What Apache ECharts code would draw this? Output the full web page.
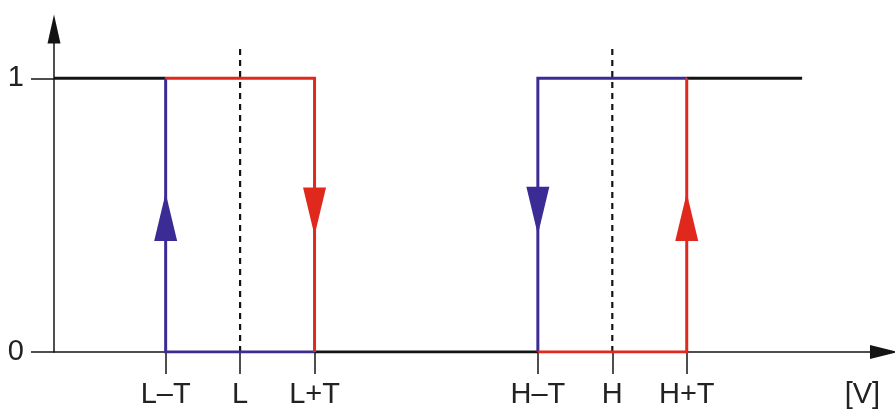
<!DOCTYPE html>
<html>
<head>
<meta charset="utf-8">
<script src="https://cdn.jsdelivr.net/npm/echarts@6/dist/echarts.min.js"></script>
<style>
  html, body { margin: 0; padding: 0; background: #fff; }
  #chart { width: 895px; height: 412px; }
</style>
</head>
<body>
<div id="chart"></div>
<script>
// x positions (T = 1 unit)
var xTicks = [1.5, 2.5, 3.5, 6.5, 7.5, 8.5];
var xTickLabels = ['L\u2013T', 'L', 'L+T', 'H\u2013T', 'H', 'H+T'];
var unitPos = 10.86;
var unitLabel = '[V]';
var yTicks = [0, 1];

// segments
var blackHigh1 = [[0, 1], [1.5, 1]];
var blackLow = [[3.5, 0], [6.5, 0]];
var blackHigh2 = [[8.5, 1], [10.05, 1]];
var redLow = [[1.5, 1], [3.5, 1], [3.5, 0]];
var blueLow = [[3.5, 0], [1.5, 0], [1.5, 1]];
var redHigh = [[6.5, 0], [8.5, 0], [8.5, 1]];
var blueHigh = [[8.5, 1], [6.5, 1], [6.5, 0]];
var dashL = [[2.5, 0], [2.5, 1.11]];
var dashH = [[7.5, 0], [7.5, 1.11]];

// arrow heads: [x, y, direction]
var blueArrows = [[1.5, 0.493, 'up'], [6.5, 0.516, 'down']];
var redArrows = [[3.5, 0.513, 'down'], [8.5, 0.493, 'up']];

var BLUE = '#3b2b94', RED = '#e0291c', BLACK = '#141414';

var chart = echarts.init(document.getElementById('chart'));

function seg(data, color, width, dash, z) {
    return {
        type: 'line', data: data, symbol: 'none', silent: true, z: z || 2,
        lineStyle: { color: color, width: width, type: dash || 'solid', join: 'miter' }
    };
}
function arrows(list, color) {
    return {
        type: 'scatter', z: 5, silent: true,
        data: list.map(function (a) {
            return { value: [a[0], a[1]], symbolRotate: a[2] === 'down' ? 180 : 0 };
        }),
        symbol: 'triangle', symbolSize: [23, 48],
        itemStyle: { color: color, opacity: 1 }
    };
}

var labelAt = xTicks.concat([unitPos]);
var labelText = xTickLabels.concat([unitLabel]);

var option = {
    animation: false,
    grid: { left: 54, right: 11, top: 29, bottom: 60 },
    xAxis: {
        type: 'value', min: 0, max: 11.15,
        splitLine: { show: false },
        axisLine: { lineStyle: { color: BLACK, width: 1.5 }, symbol: ['none', 'triangle'], symbolSize: [14, 28] },
        axisTick: { customValues: xTicks, length: 22, lineStyle: { color: BLACK, width: 1.5 } },
        axisLabel: {
            customValues: labelAt, margin: 28, fontSize: 29, color: '#222',
            fontFamily: 'Liberation Sans',
            formatter: function (v) {
                for (var i = 0; i < labelAt.length; i++) {
                    if (Math.abs(labelAt[i] - v) < 1e-6) return labelText[i];
                }
                return '';
            }
        }
    },
    yAxis: {
        type: 'value', min: 0, max: 1.18,
        splitLine: { show: false },
        axisLine: { lineStyle: { color: BLACK, width: 1.5 }, symbol: ['none', 'triangle'], symbolSize: [13, 29] },
        axisTick: { customValues: yTicks, length: 23, lineStyle: { color: BLACK, width: 1.5 } },
        axisLabel: {
            customValues: yTicks, margin: 30, fontSize: 29, color: '#222',
            fontFamily: 'Liberation Sans'
        }
    },
    series: [
        seg(dashL, BLACK, 2.2, [6, 5], 1),
        seg(dashH, BLACK, 2.2, [6, 5], 1),
        seg(blackHigh1, BLACK, 3),
        seg(blackLow, BLACK, 3),
        seg(blackHigh2, BLACK, 3),
        seg(blueLow, BLUE, 3),
        seg(redLow, RED, 3),
        seg(blueHigh, BLUE, 3),
        seg(redHigh, RED, 3),
        arrows(blueArrows, BLUE),
        arrows(redArrows, RED)
    ]
};
chart.setOption(option);
</script>
</body>
</html>
